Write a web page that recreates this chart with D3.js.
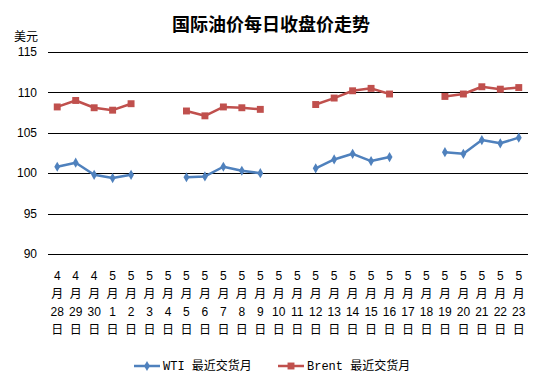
<!DOCTYPE html>
<html>
<head>
<meta charset="utf-8">
<script src="https://cdn.jsdelivr.net/npm/d3@7"></script>
<style>
  body { margin: 0; background: #fff; }
  text { font-family: "Liberation Sans", Arial, "Noto Sans CJK SC", sans-serif; }
</style>
</head>
<body>
<div id="wrapper"></div>
<script>
// categories: month / day
const months = [4,4,4,5,5,5,5,5,5,5,5,5,5,5,5,5,5,5,5,5,5,5,5,5,5,5]
const days = [28,29,30,1,2,3,4,5,6,7,8,9,10,11,12,13,14,15,16,17,18,19,20,21,22,23]

// closing prices (null = no trading)
const wti = [100.8,101.3,99.8,99.4,99.8,null,null,
  99.5,99.6,100.8,100.3,100.0,null,null,
  100.6,101.7,102.4,101.5,102.0,null,null,
  102.6,102.4,104.1,103.7,104.4]
const brent = [108.2,109.0,108.1,107.8,108.6,null,null,
  107.7,107.1,108.2,108.1,107.9,null,null,
  108.5,109.3,110.2,110.5,109.8,null,null,
  109.5,109.8,110.7,110.4,110.6]

const yTicks = [90,95,100,105,110,115]

const width = 544
const height = 384
const dims = {left: 48, right: 528, top: 52, bottom: 254}

const svg = d3.select("#wrapper").append("svg")
    .attr("width", width)
    .attr("height", height)

const xScale = d3.scaleBand()
    .domain(d3.range(days.length))
    .range([dims.left, dims.right])

const yScale = d3.scaleLinear()
    .domain([90, 115])
    .range([dims.bottom, dims.top])

const cx = i => xScale(i) + xScale.bandwidth() / 2

// gridlines
svg.append("g").selectAll("line")
  .data(yTicks)
  .join("line")
    .attr("x1", dims.left)
    .attr("x2", dims.right)
    .attr("y1", d => Math.round(yScale(d)) + 0.5)
    .attr("y2", d => Math.round(yScale(d)) + 0.5)
    .attr("stroke", "#000")
    .attr("stroke-width", 1)

// y tick labels
svg.append("g").selectAll("text")
  .data(yTicks)
  .join("text")
    .attr("x", 37)
    .attr("y", d => yScale(d))
    .attr("dy", "0.35em")
    .attr("text-anchor", "end")
    .attr("font-size", 12)
    .attr("fill", "#000")
    .text(d => d)

svg.append("text")
    .attr("x", 26)
    .attr("y", 41)
    .attr("text-anchor", "middle")
    .attr("font-size", 12)
    .style("font-family", "'Noto Sans CJK SC', sans-serif")
    .text("美元")

// title
svg.append("text")
    .attr("x", 271)
    .attr("y", 31)
    .attr("text-anchor", "middle")
    .attr("font-size", 18)
    .attr("font-weight", "bold")
    .style("font-family", "'Noto Sans CJK SC', sans-serif")
    .text("国际油价每日收盘价走势")

// x labels, stacked vertically
const xLabels = svg.append("g").selectAll("text")
  .data(days)
  .join("text")
    .attr("text-anchor", "middle")
    .attr("font-size", 12)
    .attr("fill", "#000")
xLabels.each(function(d, i) {
  const t = d3.select(this)
  const rows = [months[i], "月", d, "日"]
  rows.forEach((r, k) => {
    t.append("tspan")
      .attr("x", cx(i))
      .attr("y", 280 + k * 18)
      .text(r)
  })
})

// lines
const lineGen = d3.line()
    .defined(d => d != null)
    .x((d, i) => cx(i))
    .y(d => yScale(d))

const series = [
  {name: "WTI 最近交货月", values: wti, color: "#4F81BD", shape: d3.symbolDiamond, size: 30},
  {name: "Brent 最近交货月", values: brent, color: "#C0504D", shape: d3.symbolSquare, size: 48},
]

series.forEach(s => {
  svg.append("path")
      .datum(s.values)
      .attr("fill", "none")
      .attr("stroke", s.color)
      .attr("stroke-width", 2.5)
      .attr("stroke-linejoin", "round")
      .attr("d", lineGen)

  svg.append("g").selectAll("path")
    .data(s.values.map((v, i) => ({v, i})).filter(d => d.v != null))
    .join("path")
      .attr("transform", d => `translate(${cx(d.i)},${yScale(d.v)})`)
      .attr("d", d3.symbol().type(s.shape).size(s.size))
      .attr("fill", s.color)
})

// legend
const legendItems = [
  {x: 134, s: series[0]},
  {x: 278, s: series[1]},
]
legendItems.forEach(({x, s}) => {
  const g = svg.append("g").attr("transform", `translate(${x},366)`)
  g.append("line")
      .attr("x1", 0).attr("x2", 26)
      .attr("stroke", s.color)
      .attr("stroke-width", 2.5)
  g.append("path")
      .attr("transform", "translate(13,0)")
      .attr("d", d3.symbol().type(s.shape).size(s.size))
      .attr("fill", s.color)
  g.append("text")
      .attr("x", 29)
      .attr("dy", "0.35em")
      .attr("font-size", 12)
      .style("font-family", "'Liberation Mono', 'Noto Sans CJK SC', monospace")
      .text(s.name)
})
</script>
</body>
</html>
